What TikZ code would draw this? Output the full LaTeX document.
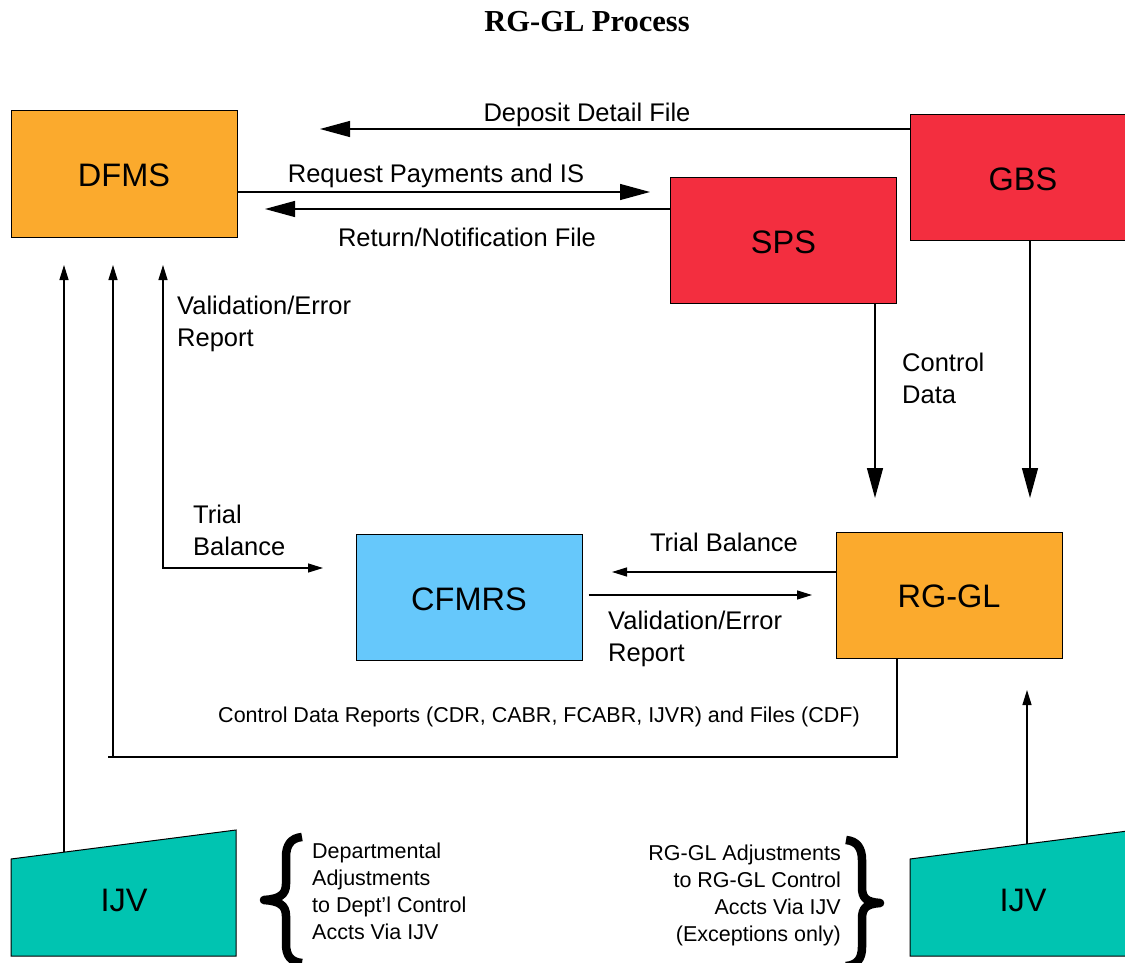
\documentclass[tikz,border=0pt]{standalone}
\usepackage{fontspec}
\setmainfont{Liberation Sans}
\newfontfamily\titlefont{Liberation Serif}
\usetikzlibrary{arrows.meta}

\definecolor{boxorange}{HTML}{FBAA2D}
\definecolor{boxred}{HTML}{F32E3F}
\definecolor{boxblue}{HTML}{66C8FB}
\definecolor{ijvteal}{HTML}{00C4B1}

\tikzset{
  box/.style={draw=black, line width=1pt, minimum width=226pt, minimum height=126pt, inner sep=0pt, text height=25pt, text depth=0pt, font=\fontsize{32.5}{36}\selectfont},
  lbl/.style={font=\fontsize{25.5}{32}\selectfont, inner sep=0pt, align=left},
  small/.style={font=\fontsize{21.5}{27}\selectfont, inner sep=0pt},
  bigarrow/.style={line width=1.3pt, -{Triangle[length=30pt,width=16pt]}},
  smallarrow/.style={line width=1.3pt, -{Triangle[length=15pt,width=9pt]}},
  smallboth/.style={line width=1.3pt, {Triangle[length=15pt,width=9pt]}-{Triangle[length=15pt,width=9pt]}},
  plain/.style={line width=1.3pt},
  bracestroke/.style={line width=8.5pt, line join=round},
}

\begin{document}
\begin{tikzpicture}[x=1pt, y=-1pt]
\clip (0,0) rectangle (1125,963);

\node[font=\titlefont\bfseries\fontsize{30.5}{34}\selectfont] (title) at (587,22) {RG-GL Process};

% boxes
\node[box, fill=boxorange] (dfms) at (124,174) {DFMS};
\node[box, fill=boxred] (gbs) at (1023,177.5) {GBS};
\node[box, fill=boxred] (sps) at (783.5,240.5) {SPS};
\node[box, fill=boxblue] (cfmrs) at (469,597.5) {CFMRS};
\node[box, fill=boxorange] (rggl) at (949,595) {RG-GL};

% IJV shapes
\draw[fill=ijvteal, line width=1pt] (11,956) -- (11,859) -- (236,830) -- (236,956) -- cycle;
\draw[fill=ijvteal, line width=1pt] (910,956) -- (910,859) -- (1140,829.4) -- (1140,956) -- cycle;
\node[font=\fontsize{32.5}{36}\selectfont] (ijvL) at (124,900) {IJV};
\node[font=\fontsize{32.5}{36}\selectfont] (ijvR) at (1023,900) {IJV};

% top arrows
\coordinate (depTip) at (320,129);
\draw[bigarrow] (gbs.west |- depTip) -- (depTip);
\node[lbl] (depLbl) at (587,115) {Deposit Detail File};

\coordinate (reqTip) at (650,192);
\draw[bigarrow] (dfms.east |- reqTip) -- (reqTip);
\node[lbl] (reqLbl) at (436,176) {Request Payments and IS};

\coordinate (retTip) at (265,209);
\draw[bigarrow] (sps.west |- retTip) -- (retTip);
\node[lbl] (retLbl) at (467,237) {Return/Notification File};

% down to RG-GL
\coordinate (spsTip) at (875,498);
\draw[bigarrow] (sps.south -| spsTip) -- (spsTip);
\node[lbl, anchor=west] (ctlLbl) at (902,378) {Control\\Data};

\coordinate (gbsTip) at (1030,498);
\draw[bigarrow] (gbs.south -| gbsTip) -- (gbsTip);

% CFMRS to DFMS
\coordinate (valTip) at (163,265);
\coordinate (valCorner) at (163,568);
\coordinate (tbTip) at (323,568);
\draw[smallboth] (valTip) -- (valCorner) -- (tbTip);
\node[lbl, anchor=west] (valLbl) at (177,324) {Validation/Error\\Report};
\node[lbl, anchor=west] (tbLbl) at (193,530) {Trial\\Balance};

% CFMRS <-> RG-GL
\coordinate (tb2Tip) at (612,572);
\draw[smallarrow] (rggl.west |- tb2Tip) -- (tb2Tip);
\node[lbl] (tb2Lbl) at (724,542) {Trial Balance};

\coordinate (ve2Tip) at (812,595);
\draw[smallarrow] ([xshift=6pt]cfmrs.east |- ve2Tip) -- (ve2Tip);
\node[lbl, anchor=west] (ve2Lbl) at (608,639) {Validation/Error\\Report};

% control data reports back to DFMS
\coordinate (cdrCorner) at (897,757);
\coordinate (cdrLeft) at (108,757);
\coordinate (cdrTip) at (113,265);
\draw[plain] (rggl.south -| cdrCorner) -- (cdrCorner) -- (cdrLeft);
\draw[smallarrow] (cdrLeft -| cdrTip) -- (cdrTip);
\node[small] (cdrLbl) at (539,717) {Control Data Reports (CDR, CABR, FCABR, IJVR) and Files (CDF)};

% IJV arrows
\coordinate (ijvLTop) at (64,852);
\coordinate (ijvLTip) at (64,265);
\draw[smallarrow] (ijvLTop) -- (ijvLTip);
\coordinate (ijvRTop) at (1027,844);
\coordinate (ijvRTip) at (1027,690);
\draw[smallarrow] (ijvRTop) -- (ijvRTip);

% braces and notes
\draw[bracestroke] (302,837) .. controls (291,838) and (286,845) .. (286,857) -- (286,884)
  .. controls (286,895) and (279,899) .. (264,900) .. controls (279,901) and (286,905) .. (286,916)
  -- (286,944) .. controls (286,956) and (291,962) .. (302,963);
\node[small, align=left, anchor=west] (noteL) at (312,891) {Departmental\\Adjustments\\to Dept'l Control\\Accts Via IJV};
\draw[bracestroke] (846,840) .. controls (857,841) and (862,848) .. (862,860) -- (862,887)
  .. controls (862,898) and (866,902) .. (880,903) .. controls (866,904) and (862,908) .. (862,919)
  -- (862,947) .. controls (862,959) and (857,965) .. (846,966);
\node[small, align=right, anchor=east] (noteR) at (841,895) {RG-GL Adjustments\\to RG-GL Control\\Accts Via IJV\\(Exceptions only)};

\end{tikzpicture}
\end{document}
